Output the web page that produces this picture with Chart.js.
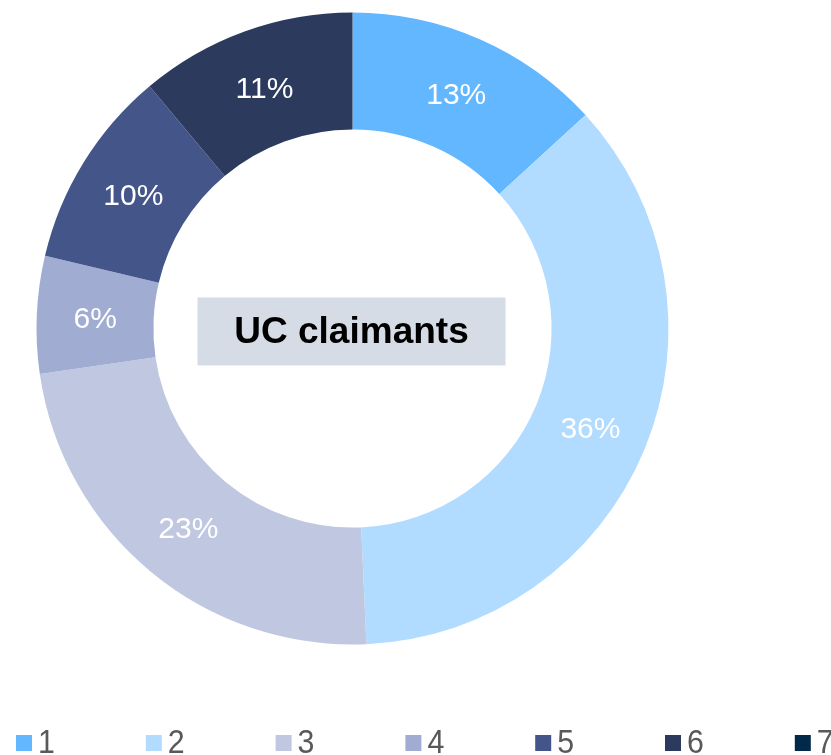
<!DOCTYPE html>
<html>
<head>
<meta charset="utf-8">
<script src="https://cdn.jsdelivr.net/npm/chart.js@4"></script>
<style>
  html, body { margin: 0; padding: 0; background: #fff; overflow: hidden; }
  #wrap { width: 831px; height: 755px; }
</style>
</head>
<body>
<div id="wrap"><canvas id="chart" width="831" height="755"></canvas></div>
<script>
// categories and shares (%)
const categories = ["1", "2", "3", "4", "5", "6", "7"];
const shares = [13.2, 36.1, 23.4, 6.0, 10.2, 11.1, 0];
const colours = ["#63B7FF", "#B1DBFF", "#C0C8E1", "#A0ACD1", "#44558A", "#2C3A5E", "#03294A"];
const centreLabel = "UC claimants";

// percentage labels in the middle of each ring slice
const sliceLabels = {
  id: "sliceLabels",
  afterDatasetsDraw(chart) {
    const ctx = chart.ctx;
    const meta = chart.getDatasetMeta(0);
    ctx.save();
    ctx.fillStyle = "#ffffff";
    ctx.font = "30px 'Liberation Sans', Arial, sans-serif";
    ctx.textAlign = "center";
    ctx.textBaseline = "middle";
    meta.data.forEach((arc, i) => {
      if (!shares[i]) return;
      const p = arc.tooltipPosition();
      ctx.fillText(Math.round(shares[i]) + "%", p.x, p.y + 3);
    });
    ctx.restore();
  }
};

// grey box with the title in the hole
const centreBox = {
  id: "centreBox",
  afterDraw(chart) {
    const ctx = chart.ctx;
    const arc = chart.getDatasetMeta(0).data[0];
    const cx = arc.x - 1, cy = arc.y + 3;
    ctx.save();
    ctx.fillStyle = "#D6DCE5";
    ctx.fillRect(cx - 154, cy - 34, 308, 68);
    ctx.fillStyle = "#000";
    ctx.font = "bold 37px 'Liberation Sans', Arial, sans-serif";
    ctx.textAlign = "center";
    ctx.textBaseline = "middle";
    ctx.fillText(centreLabel, cx, cy + 1);
    ctx.restore();
  }
};

// legend row along the bottom (last item runs off the edge like the original)
const bottomLegend = {
  id: "bottomLegend",
  afterDraw(chart) {
    const ctx = chart.ctx;
    ctx.save();
    ctx.textBaseline = "alphabetic";
    ctx.textAlign = "left";
    categories.forEach((c, i) => {
      const x = 16 + i * 129.8;
      ctx.fillStyle = colours[i];
      ctx.fillRect(x, 735, 16, 16);
      ctx.save();
      ctx.translate(x + 22, 753);
      ctx.scale(0.92, 1);
      ctx.font = "33px 'Liberation Sans', Arial, sans-serif";
      ctx.fillStyle = "#595959";
      ctx.fillText(c, 0, 0);
      ctx.restore();
    });
    ctx.restore();
  }
};

new Chart(document.getElementById("chart"), {
  type: "doughnut",
  data: {
    labels: categories,
    datasets: [{
      data: shares,
      backgroundColor: colours,
      borderWidth: 0
    }]
  },
  options: {
    responsive: false,
    animation: false,
    cutout: "63%",
    layout: { padding: { left: 36.5, right: 162.5, top: 12.5, bottom: 110.5 } },
    plugins: {
      legend: { display: false },
      tooltip: { enabled: false }
    }
  },
  plugins: [sliceLabels, centreBox, bottomLegend]
});
</script>
</body>
</html>
